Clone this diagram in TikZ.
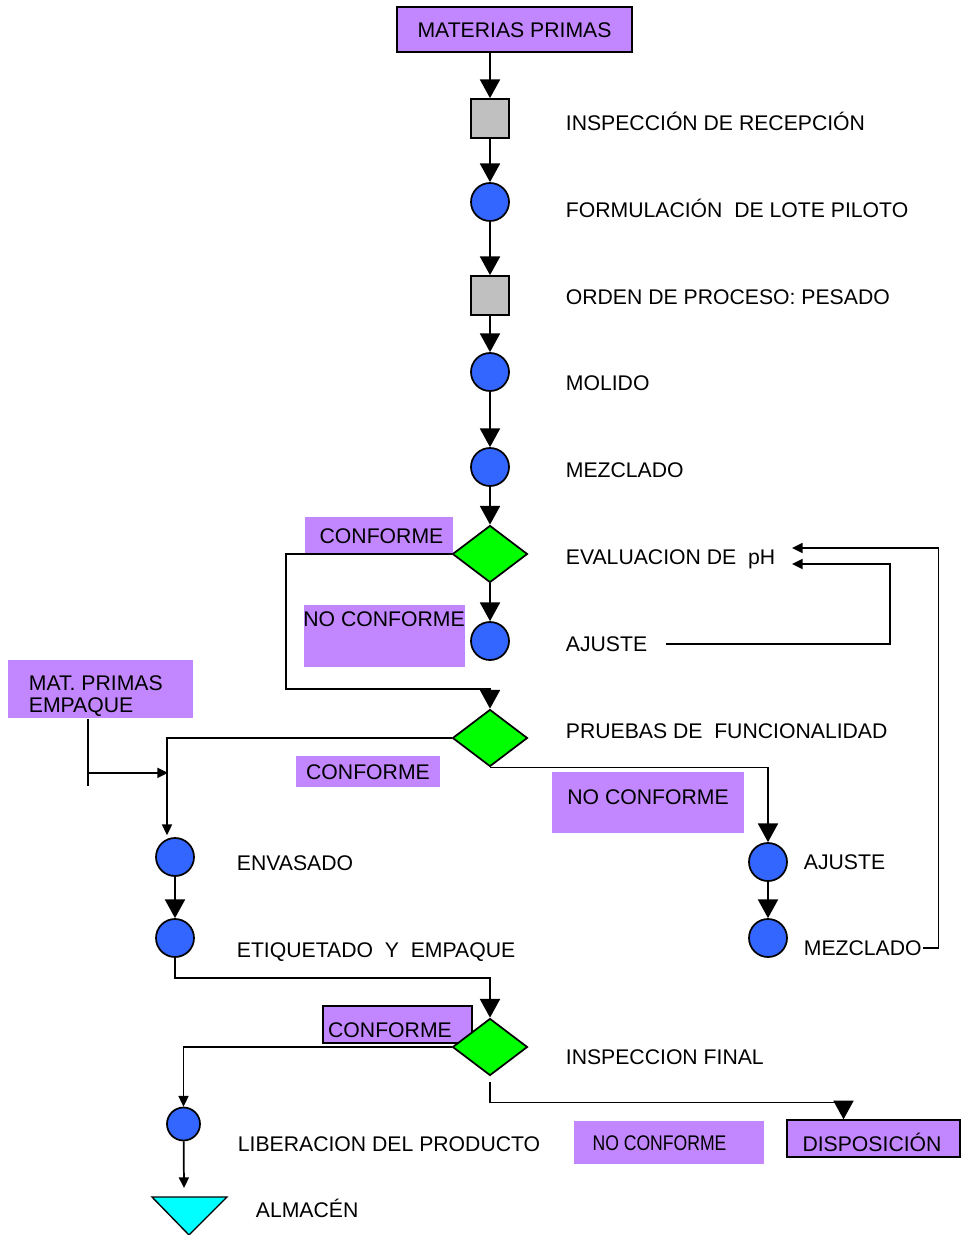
\documentclass[tikz,border=0pt]{standalone}
\usepackage{fontspec}
\setmainfont{Liberation Sans}
\usetikzlibrary{arrows.meta,shapes.geometric}
\definecolor{lila}{HTML}{C287FF}
\definecolor{azul}{HTML}{3366FF}
\definecolor{verde}{HTML}{00FF00}
\definecolor{gris}{HTML}{C0C0C0}
\definecolor{cian}{HTML}{00FFFF}

\begin{document}
\begin{tikzpicture}[x=0.75pt, y=-0.75pt, line width=1.3pt,
	every node/.style={font=\fontsize{15.9}{18}\selectfont, text height=11.4pt, text depth=0pt},
	>={Triangle[width=15pt,length=14pt]},
	chica/.style={-{Triangle[width=7.5pt,length=8pt]}},
	oper/.style={circle, draw, fill=azul, minimum size=28.5pt, inner sep=0pt},
	insp/.style={draw, fill=gris, minimum width=28.5pt, minimum height=29.25pt, inner sep=0pt},
	deci/.style={diamond, draw, fill=verde, minimum width=56.25pt, minimum height=42.75pt, inner sep=0pt},
	caja/.style={fill=lila, inner sep=0pt},
	etq/.style={anchor=west, inner sep=0pt}]
	\useasboundingbox (0,0) rectangle (961,1235);
	\node[caja, draw, minimum width=176.25pt, minimum height=33.75pt] (mat) at (514.5,29.5) {MATERIAS PRIMAS};
	\node[caja, minimum width=111pt, minimum height=27.75pt] (cf1) at (378.5,535.5) {};
	\node[caja, minimum width=120.75pt, minimum height=46.5pt] (nc1) at (384.5,635.5) {};
	\node[caja, minimum width=138.75pt, minimum height=43.5pt] (mp) at (100.5,689) {};
	\node[caja, minimum width=108pt, minimum height=23.25pt] (cf2) at (368,771.5) {CONFORME};
	\node[caja, minimum width=144pt, minimum height=45.75pt] (nc2) at (648,802.5) {};
	\node[caja, draw, line width=1pt, minimum width=111.75pt, minimum height=27.75pt] (cf3) at (397.5,1024.5) {};
	\node[caja, minimum width=142.5pt, minimum height=32.25pt] (nc3) at (669,1142.5) {};
	\node[caja, draw, line width=1pt, minimum width=129.75pt, minimum height=27.75pt] (disp) at (873.5,1138.5) {};

	\node[insp] (sq1) at (490,118.5) {};
	\node[oper] (c1) at (490,202) {};
	\node[insp] (sq2) at (490,295.5) {};
	\node[oper] (c2) at (490,372) {};
	\node[oper] (c3) at (490,467) {};
	\node[deci] (d1) at (490,554) {};
	\node[oper] (c4) at (490,641) {};
	\node[deci] (d2) at (490,738) {};
	\node[oper] (env) at (175,857) {};
	\node[oper] (eti) at (175,938) {};
	\node[oper] (aj2) at (768,862) {};
	\node[oper] (mez2) at (768,938) {};
	\node[deci] (d3) at (490,1047) {};
	\node[oper, minimum size=24.75pt] (lib) at (183.5,1124) {};
	\draw[fill=cian, line width=1pt] (152,1197) -- (227,1197) -- (189,1235) -- cycle;
	\coordinate (alm) at (184,1188);

	\node[etq] (t1) at (565,123) {INSPECCIÓN DE RECEPCIÓN};
	\node[etq] (t2) at (565,210) {FORMULACIÓN\ \ DE LOTE PILOTO};
	\node[etq] (t3) at (565,297) {ORDEN DE PROCESO: PESADO};
	\node[etq] (t4) at (565,383) {MOLIDO};
	\node[etq] (t5) at (565,470) {MEZCLADO};
	\node[etq] (tph) at (565,557) {EVALUACION DE\ \ pH};
	\node[etq] (taj) at (565,644) {AJUSTE};
	\node[etq] (tpf) at (565,731) {PRUEBAS DE\ \ FUNCIONALIDAD};
	\node[etq] (tif) at (565,1057) {INSPECCION FINAL};
	\node[etq] (tenv) at (236,863) {ENVASADO};
	\node[etq] (teti) at (236,950) {ETIQUETADO\ \ Y\ \ EMPAQUE};
	\node[etq] (tlib) at (237,1144) {LIBERACION DEL PRODUCTO};
	\node[etq] (talm) at (255,1210) {ALMACÉN};
	\node[etq] (taj2) at (803,862) {AJUSTE};
	\node[etq] (tmez2) at (803,948) {MEZCLADO};
	\node[inner sep=0pt] (cf1t) at (381.5,536) {CONFORME};
	\node[inner sep=0pt] (nc1t) at (384,618.5) {NO CONFORME};
	\node[etq] (mpt1) at (28,683) {MAT. PRIMAS};
	\node[etq] (mpt2) at (28,705) {EMPAQUE};
	\node[inner sep=0pt] (nc2t) at (648,797) {NO CONFORME};
	\node[inner sep=0pt] (cf3t) at (390,1030) {CONFORME};
	\node[inner sep=0pt] (nc3t) at (659.5,1143) {\scalebox{0.83}[1]{NO CONFORME}};
	\node[inner sep=0pt] (dispt) at (872,1144) {DISPOSICIÓN};

	\draw[->] (mat.south -| sq1) -- (sq1);
	\draw[->] (sq1) -- (c1);
	\draw[->] (c1) -- (sq2);
	\draw[->] (sq2) -- (c2);
	\draw[->] (c2) -- (c3);
	\draw[->] (c3) -- (d1);
	\draw[->] (d1) -- (c4);
	\draw[->] (d1.west) -- ++(-166,0) -- ++(0,135) -| (d2.north);
	\draw[chica] (d2.west) -| ([xshift=-6pt,yshift=1.5pt]env.north);
	\draw ([xshift=-9.4pt]mp.south) -- ++(0,67);
	\draw[chica] ([xshift=-9.4pt]mp.south) ++(0,54) -- ++(80,0);
	\draw[->] (d2.south) -| (aj2.north);
	\draw[->] (aj2) -- (mez2);
	\draw[chica] (tmez2.east) -- ++(16,0) |- ([xshift=12pt,yshift=6.75pt]tph.east);
	\draw[chica] ([xshift=13.5pt]taj.east) -- ++(224,0) |- ([xshift=12pt,yshift=-5.25pt]tph.east);
	\draw[->] (env) -- (eti);
	\draw[->] (eti.south) -- ++(0,20) -| (d3.north);
	\draw[chica] (d3.west) -| (lib.north);
	\draw[chica] (lib) -- (alm);
	\draw[->] ([yshift=-4.5pt]d3.south) -- ++(0,20) -| ([xshift=-22.5pt]disp.north);
\end{tikzpicture}
\end{document}
